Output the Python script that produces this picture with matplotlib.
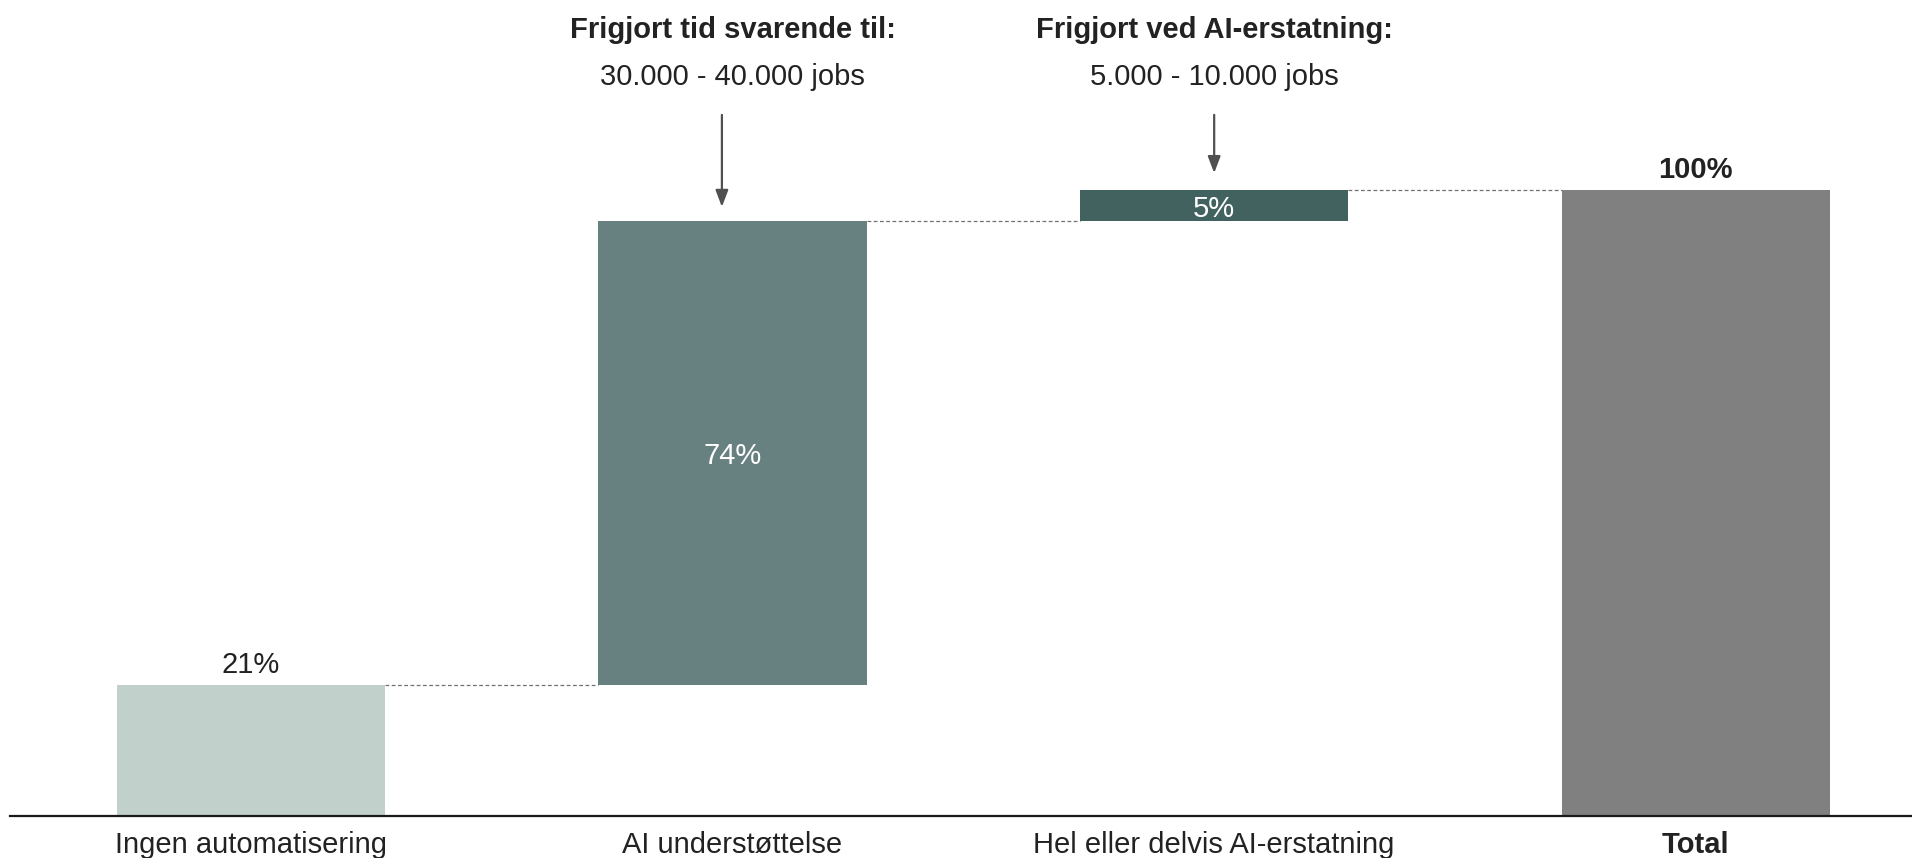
import matplotlib
matplotlib.use("Agg")
import matplotlib.pyplot as plt
import numpy as np

plt.rcParams['font.family'] = ['Liberation Sans', 'DejaVu Sans']

# data
categories = ["Ingen automatisering", "AI understøttelse", "Hel eller delvis AI-erstatning", "Total"]
values = [21, 74, 5, 100]
value_labels = ["21%", "74%", "5%", "100%"]
colors = ["#C2D0CB", "#678180", "#41625F", "#808080"]
notes_title = ["Frigjort tid svarende til:", "Frigjort ved AI-erstatning:"]
notes_text = ["30.000 - 40.000 jobs", "5.000 - 10.000 jobs"]


def main():
    fig = plt.figure(figsize=(19.12, 8.58), dpi=100)
    ax = fig.add_axes([10 / 1912, 42 / 858, 1902 / 1912, 816 / 858])

    x = np.arange(len(categories))
    # waterfall: steps stack on each other, total starts at 0
    bottoms = [0, values[0], values[0] + values[1], 0]
    width = 0.557

    ax.bar(x, values, bottom=bottoms, width=width, color=colors, zorder=2)

    # dashed connectors between bars
    tops = [b + v for b, v in zip(bottoms, values)]
    for i in range(len(x) - 1):
        ax.plot([x[i] + width / 2, x[i + 1] - width / 2], [tops[i], tops[i]],
                ls=(0, (3, 2)), lw=0.9, color="#707070", zorder=1)

    # value labels
    ax.text(x[0], tops[0] + 0.9, value_labels[0], ha="center", va="bottom",
            fontsize=21, color="#222222")
    ax.text(x[1], bottoms[1] + values[1] / 2, value_labels[1], ha="center",
            va="center_baseline", fontsize=21, color="white")
    ax.text(x[2], bottoms[2] + values[2] / 2, value_labels[2], ha="center",
            va="center_baseline", fontsize=21, color="white")
    ax.text(x[3], tops[3] + 0.9, value_labels[3], ha="center", va="bottom",
            fontsize=21, color="#222222", fontweight="bold")

    # notes above the two middle bars
    arrow_end = [tops[1] + 2.3, tops[2] + 2.7]
    for k, i in enumerate([1, 2]):
        ax.text(x[i], 125.6, notes_title[k], ha="center", va="center",
                fontsize=21, fontweight="bold", color="#222222")
        ax.text(x[i], 118.1, notes_text[k], ha="center", va="center",
                fontsize=21, color="#222222")
        xa = x[i] - 0.022 * (k == 0)
        ax.annotate("", xy=(xa, arrow_end[k]), xytext=(xa, 112.0),
                    arrowprops=dict(arrowstyle="-|>,head_length=1.0,head_width=0.38",
                                    color="#505050", lw=1.6,
                                    shrinkA=0, shrinkB=0))

    ax.set_xlim(-0.5, -0.5 + 1902 / 481.67)
    ax.set_ylim(0, 130.35)

    ax.set_xticks(x)
    ax.set_xticklabels(categories, fontsize=21, color="#222222")
    ax.get_xticklabels()[3].set_fontweight("bold")
    ax.tick_params(axis="x", length=0, pad=10.5)
    ax.set_yticks([])

    for s in ["top", "right", "left"]:
        ax.spines[s].set_visible(False)
    ax.spines["bottom"].set_linewidth(1.6)
    ax.spines["bottom"].set_color("#1a1a1a")
    ax.spines["bottom"].set_zorder(3)

    fig.savefig("out.png", dpi=100)


if __name__ == "__main__":
    main()
